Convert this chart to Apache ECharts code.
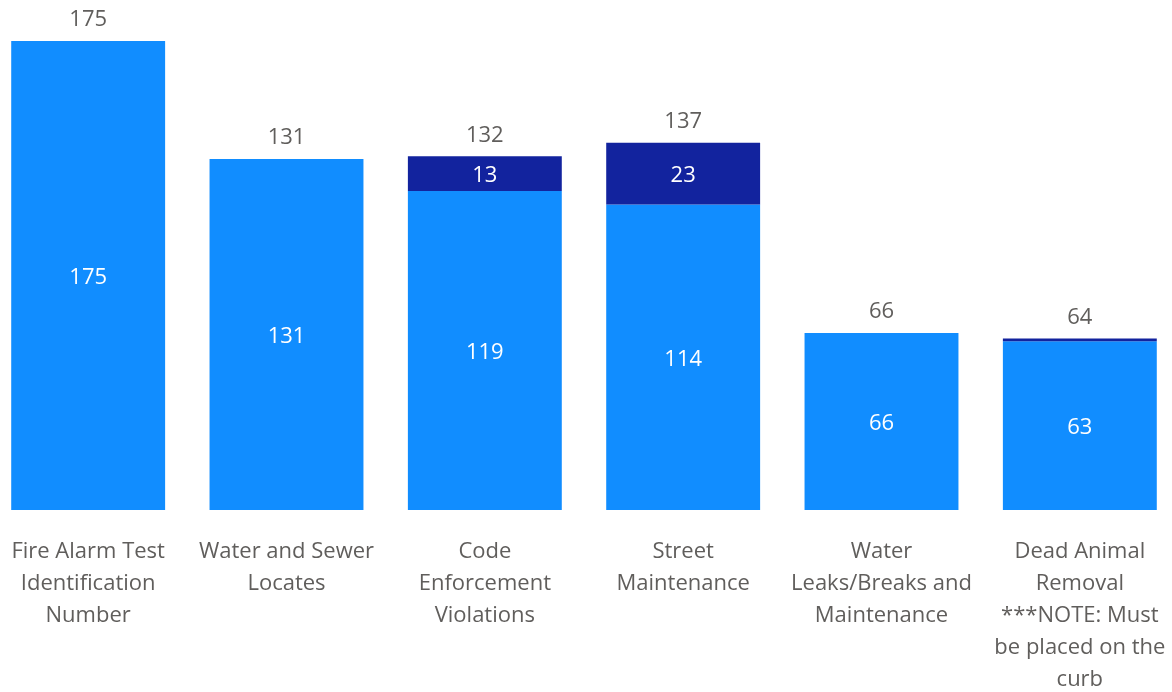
<!DOCTYPE html>
<html>
<head>
<meta charset="utf-8">
<script src="https://cdn.jsdelivr.net/npm/echarts@6/dist/echarts.min.js"></script>
<style>
  html, body { margin: 0; padding: 0; background: #fff; }
  #chart { width: 1172px; height: 692px; }
</style>
</head>
<body>
<div id="chart"></div>
<script>
// category tick labels, wrapped as in the reference
const categories = [
  'Fire Alarm Test\nIdentification\nNumber',
  'Water and Sewer\nLocates',
  'Code\nEnforcement\nViolations',
  'Street\nMaintenance',
  'Water\nLeaks/Breaks and\nMaintenance',
  'Dead Animal\nRemoval\n***NOTE: Must\nbe placed on the\ncurb',
]
const lightValues = [175, 131, 119, 114, 66, 63]
const darkValues = [0, 0, 13, 23, 0, 1]
const totals = lightValues.map((v, i) => v + darkValues[i])

const FONT = '"Open Sans", "Noto Sans", sans-serif'
const GRAY = '#605E5C'

const chart = echarts.init(document.getElementById('chart'))

const insideLabel = {
  show: true,
  position: 'inside',
  color: '#fff',
  fontSize: 22,
  fontFamily: FONT,
  offset: [0, 2],
  formatter: p => (p.value >= 5 ? p.value : ''),
}

chart.setOption({
  animation: false,
  grid: { left: -11, right: -7, top: 41, bottom: 182, outerBoundsMode: 'none', containLabel: false },
  xAxis: {
    type: 'category',
    data: categories,
    axisLine: { show: false },
    axisTick: { show: false },
    axisLabel: {
      interval: 0,
      color: GRAY,
      fontSize: 22,
      fontFamily: FONT,
      lineHeight: 32,
      margin: 26,
      align: 'center',
    },
  },
  yAxis: {
    type: 'value',
    min: 0,
    max: 175,
    show: false,
  },
  series: [
    {
      name: 'light',
      type: 'bar',
      stack: 'total',
      barWidth: '77.6%',
      itemStyle: { color: '#118DFF' },
      label: insideLabel,
      data: lightValues,
    },
    {
      name: 'dark',
      type: 'bar',
      stack: 'total',
      itemStyle: { color: '#12239E' },
      label: insideLabel,
      data: darkValues,
    },
    {
      name: 'total',
      type: 'bar',
      stack: 'total',
      itemStyle: { color: 'transparent' },
      label: {
        show: true,
        position: 'top',
        distance: 10,
        color: GRAY,
        fontSize: 22,
        fontFamily: FONT,
        formatter: p => totals[p.dataIndex],
      },
      data: totals.map(() => 0),
    },
  ],
})
</script>
</body>
</html>
